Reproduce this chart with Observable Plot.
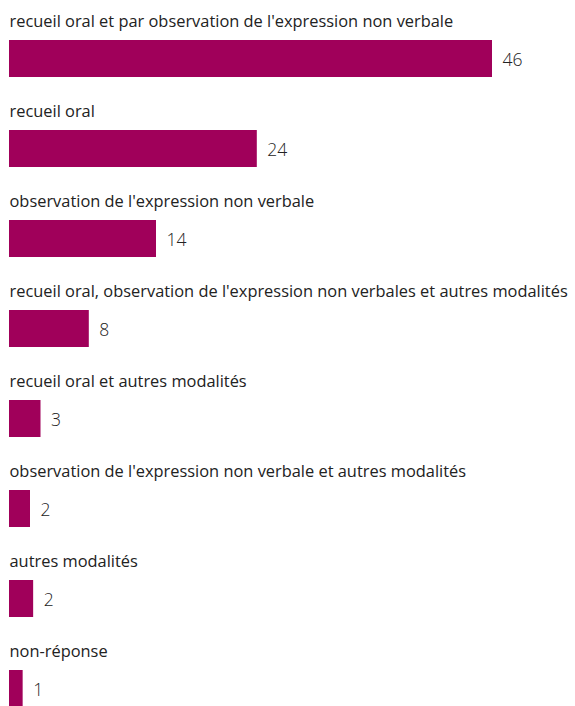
<!DOCTYPE html>
<html>
<head>
<meta charset="utf-8">
<script src="https://cdn.jsdelivr.net/npm/d3@7"></script>
<script src="https://cdn.jsdelivr.net/npm/@observablehq/plot@0.6"></script>
<style>
  html, body { margin: 0; padding: 0; background: #fff; }
  #chart svg { display: block; }
</style>
</head>
<body>
<div id="chart"></div>
<script>
const categories = [
  "recueil oral et par observation de l'expression non verbale",
  "recueil oral",
  "observation de l'expression non verbale",
  "recueil oral, observation de l'expression non verbales et autres modalités",
  "recueil oral et autres modalités",
  "observation de l'expression non verbale et autres modalités",
  "autres modalités",
  "non-réponse"
];
const values = [46, 23.6, 14, 7.6, 3, 2, 2.3, 1.3];

const data = categories.map((c, i) => ({category: c, value: values[i]}));
const color = "#a0005a";
const font = "'Open Sans', sans-serif";

const chart = Plot.plot({
  width: 575,
  height: 706,
  margin: 0,
  style: {fontFamily: font, fontSize: "16px", color: "#222", background: "#fff"},
  x: {domain: [0, 46], range: [9, 492], axis: null},
  y: {domain: categories, range: [38, 709], paddingInner: 0.586, paddingOuter: 0, axis: null},
  marks: [
    Plot.barX(data, {x: "value", y: "category", fill: color}),
    Plot.text(data, {
      x: 0, y: "category", text: "category",
      textAnchor: "start", dy: -37.5, fontSize: 16.4, fill: "#222"
    }),
    Plot.text(data, {
      x: "value", y: "category", text: d => String(Math.round(d.value)),
      textAnchor: "start", dx: 10, dy: 1, fontSize: 17.5, fontWeight: 300, fill: "#222"
    })
  ]
});
document.getElementById("chart").appendChild(chart);
</script>
</body>
</html>
